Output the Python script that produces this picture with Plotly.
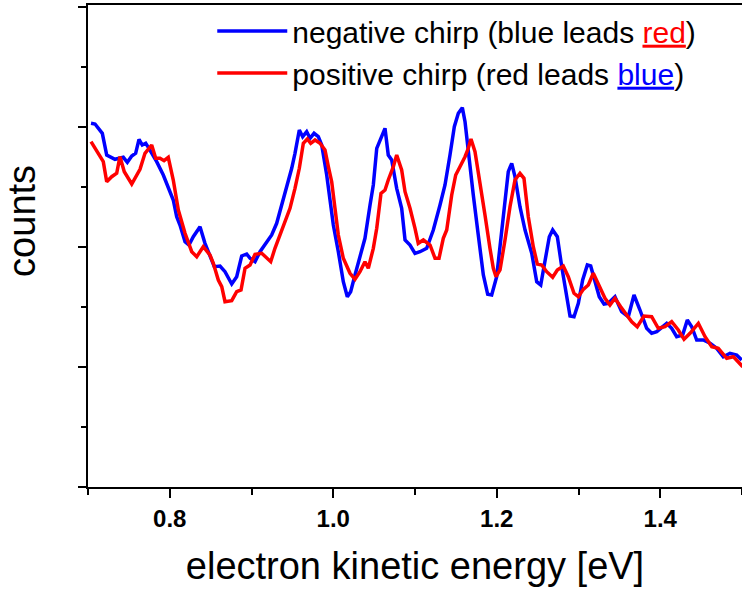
import plotly.graph_objects as go

# electron kinetic energy [eV] and counts (arbitrary units)
neg_energy = [0.7037, 0.7086, 0.7175, 0.7229, 0.7330, 0.7432, 0.7481, 0.7535, 0.7583, 0.7624,
              0.7664, 0.7706, 0.7738, 0.7840, 0.7921, 0.7982, 0.8043, 0.8085, 0.8125, 0.8187,
              0.8235, 0.8288, 0.8370, 0.8431, 0.8492, 0.8545, 0.8615, 0.8676, 0.8758, 0.8819,
              0.8880, 0.8941, 0.8982, 0.9043, 0.9104, 0.9186, 0.9247, 0.9308, 0.9370, 0.9431,
              0.9492, 0.9532, 0.9585, 0.9626, 0.9675, 0.9716, 0.9765, 0.9817, 0.9859, 0.9920,
              0.9960, 1.0001, 1.0062, 1.0123, 1.0172, 1.0213, 1.0266, 1.0327, 1.0388, 1.0450,
              1.0490, 1.0532, 1.0593, 1.0633, 1.0673, 1.0715, 1.0776, 1.0837, 1.0878, 1.0939,
              1.1000, 1.1061, 1.1143, 1.1224, 1.1306, 1.1367, 1.1428, 1.1481, 1.1530, 1.1579,
              1.1612, 1.1652, 1.1713, 1.1774, 1.1836, 1.1889, 1.1938, 1.1999, 1.2068, 1.2141,
              1.2183, 1.2223, 1.2284, 1.2346, 1.2428, 1.2489, 1.2538, 1.2590, 1.2643, 1.2684,
              1.2741, 1.2795, 1.2856, 1.2896, 1.2945, 1.2998, 1.3051, 1.3108, 1.3149, 1.3202,
              1.3254, 1.3312, 1.3364, 1.3446, 1.3528, 1.3609, 1.3679, 1.3752, 1.3834, 1.3895,
              1.3957, 1.4079, 1.4140, 1.4201, 1.4274, 1.4331, 1.4385, 1.4446, 1.4527, 1.4609,
              1.4691, 1.4771, 1.4853, 1.4935, 1.4996]
neg_counts = [363.7, 363.0, 353.7, 332.0, 327.7, 329.7, 324.7, 331.0, 333.7, 347.7,
              342.0, 343.7, 339.7, 325.3, 312.0, 300.3, 287.0, 270.3, 262.0, 245.3,
              242.0, 250.3, 260.3, 243.7, 230.3, 220.3, 221.0, 215.3, 203.0, 210.3,
              231.0, 233.0, 228.7, 225.3, 235.3, 245.3, 252.0, 263.7, 282.0, 298.7,
              318.7, 333.7, 357.0, 350.3, 355.3, 348.7, 353.7, 350.3, 342.0, 312.0,
              285.3, 262.0, 235.3, 205.3, 190.3, 195.3, 212.0, 232.0, 248.7, 282.0,
              302.0, 338.7, 352.0, 358.7, 332.0, 327.0, 298.7, 278.7, 247.0, 242.0,
              233.7, 235.3, 238.7, 257.0, 282.0, 302.0, 332.0, 360.3, 373.7, 379.3,
              365.3, 335.3, 292.0, 252.0, 212.0, 192.7, 192.0, 210.3, 265.3, 315.3,
              323.7, 310.3, 280.3, 257.0, 233.7, 205.3, 202.0, 227.0, 250.3, 257.0,
              250.3, 220.3, 190.3, 171.0, 170.3, 183.7, 207.0, 222.0, 221.0, 207.0,
              190.3, 183.0, 183.7, 190.3, 175.3, 170.3, 192.0, 177.0, 158.7, 153.7,
              155.3, 163.7, 158.7, 150.3, 152.0, 167.0, 160.3, 147.0, 147.0, 143.7,
              138.7, 130.3, 133.7, 132.0, 127.0]

pos_energy = [0.7037, 0.7086, 0.7147, 0.7187, 0.7229, 0.7290, 0.7351, 0.7391, 0.7444, 0.7535,
              0.7636, 0.7697, 0.7779, 0.7828, 0.7881, 0.7930, 0.7982, 0.8043, 0.8105, 0.8187,
              0.8269, 0.8330, 0.8410, 0.8492, 0.8533, 0.8594, 0.8636, 0.8676, 0.8758, 0.8819,
              0.8872, 0.8921, 0.8982, 0.9043, 0.9125, 0.9186, 0.9235, 0.9287, 0.9349, 0.9410,
              0.9471, 0.9532, 0.9585, 0.9634, 0.9683, 0.9724, 0.9777, 0.9838, 0.9899, 0.9940,
              0.9981, 1.0021, 1.0062, 1.0123, 1.0205, 1.0266, 1.0327, 1.0388, 1.0429, 1.0490,
              1.0532, 1.0584, 1.0633, 1.0673, 1.0735, 1.0776, 1.0837, 1.0878, 1.0939, 1.1000,
              1.1040, 1.1102, 1.1184, 1.1245, 1.1294, 1.1346, 1.1388, 1.1449, 1.1498, 1.1550,
              1.1612, 1.1652, 1.1685, 1.1734, 1.1795, 1.1856, 1.1917, 1.1958, 1.1991, 1.2040,
              1.2101, 1.2162, 1.2223, 1.2284, 1.2333, 1.2386, 1.2447, 1.2496, 1.2550, 1.2611,
              1.2684, 1.2741, 1.2814, 1.2875, 1.2945, 1.2998, 1.3059, 1.3120, 1.3181, 1.3263,
              1.3324, 1.3385, 1.3446, 1.3516, 1.3581, 1.3651, 1.3719, 1.3801, 1.3895, 1.3976,
              1.4058, 1.4140, 1.4221, 1.4291, 1.4364, 1.4466, 1.4548, 1.4630, 1.4710, 1.4813,
              1.4895, 1.4976, 1.5009]
pos_counts = [345.3, 338.7, 330.3, 325.3, 305.3, 310.3, 313.7, 330.3, 315.3, 303.0,
              317.7, 333.7, 342.0, 328.7, 328.7, 326.3, 329.7, 307.0, 277.0, 253.7,
              235.3, 230.3, 240.3, 232.0, 223.7, 207.0, 200.3, 185.3, 186.3, 195.3,
              197.0, 218.7, 222.0, 232.7, 233.7, 228.7, 225.3, 238.7, 252.0, 267.0,
              278.7, 298.7, 318.7, 343.7, 348.0, 343.7, 347.0, 343.7, 337.0, 320.3,
              305.3, 278.7, 252.0, 228.7, 213.7, 207.7, 215.3, 225.3, 218.7, 238.7,
              258.7, 293.7, 297.0, 307.0, 320.3, 332.0, 317.0, 295.3, 278.7, 258.7,
              243.7, 247.0, 242.0, 228.7, 228.7, 248.7, 257.0, 292.0, 312.0, 320.3,
              330.3, 338.7, 348.0, 335.3, 305.3, 272.0, 238.7, 218.7, 210.3, 217.0,
              247.0, 280.3, 307.0, 313.7, 308.7, 270.3, 240.3, 223.0, 222.0, 215.3,
              209.7, 217.0, 221.0, 210.3, 193.7, 190.3, 197.7, 202.0, 213.7, 200.3,
              188.7, 182.0, 188.7, 180.3, 173.7, 165.3, 160.3, 171.0, 170.3, 158.7,
              160.3, 165.3, 157.0, 147.7, 153.7, 163.7, 150.3, 140.3, 138.7, 128.7,
              130.3, 123.7, 120.3]

x_tick_vals = [0.8, 1.0, 1.2, 1.4]
x_tick_text = ["0.8", "1.0", "1.2", "1.4"]

FONT = "Liberation Sans, Arial, sans-serif"

fig = go.Figure()
fig.add_trace(go.Scatter(
    x=neg_energy, y=neg_counts, mode="lines",
    name='negative chirp (blue leads <span style="color:#ff0000"><u>red</u></span>)',
    line=dict(color="#0000ff", width=3.5)))
fig.add_trace(go.Scatter(
    x=pos_energy, y=pos_counts, mode="lines",
    name='positive chirp (red leads <span style="color:#0000ff"><u>blue</u></span>)',
    line=dict(color="#ff0000", width=3.5)))

fig.add_annotation(
    text="counts", textangle=-90, showarrow=False,
    xref="paper", yref="paper", x=-0.101, y=0.552,
    xanchor="center", yanchor="middle",
    font=dict(size=38, family=FONT, color="black"),
)

fig.update_layout(
    width=742, height=590,
    margin=dict(l=88, r=0, t=5, b=103, autoexpand=False),
    paper_bgcolor="white", plot_bgcolor="white",
    font=dict(family=FONT, color="black"),
    showlegend=True,
    legend=dict(x=0.19, y=1.0, xanchor="left", yanchor="top",
                bgcolor="rgba(0,0,0,0)", font=dict(size=30, family=FONT),
                tracegroupgap=0, itemwidth=70),
    xaxis=dict(
        range=[0.7, 1.5], showgrid=False, zeroline=False, automargin=False,
        showline=True, linecolor="black", linewidth=2, mirror=True,
        ticks="outside", ticklen=9, tickwidth=2, tickcolor="black",
        tickvals=x_tick_vals, ticktext=x_tick_text,
        tickfont=dict(size=24, family=FONT, weight="bold"),
        minor=dict(dtick=0.1, tick0=0.7, ticks="outside", ticklen=6, tickwidth=2, tickcolor="black"),
        title=dict(text="electron kinetic energy [eV]", font=dict(size=38, family=FONT), standoff=22),
    ),
    yaxis=dict(
        range=[0, 482], showgrid=False, zeroline=False, automargin=False,
        showline=True, linecolor="black", linewidth=2,
        ticks="outside", ticklen=8, tickwidth=2, tickcolor="black",
        tick0=0, dtick=120, showticklabels=False,
        minor=dict(dtick=60, tick0=0, ticks="outside", ticklen=5, tickwidth=2, tickcolor="black"),
    ),
)

fig.write_html(
    "out.html",
    config={"displayModeBar": False},
    post_script="document.body.style.margin='0';document.body.style.padding='0';document.body.style.overflow='hidden';",
)
